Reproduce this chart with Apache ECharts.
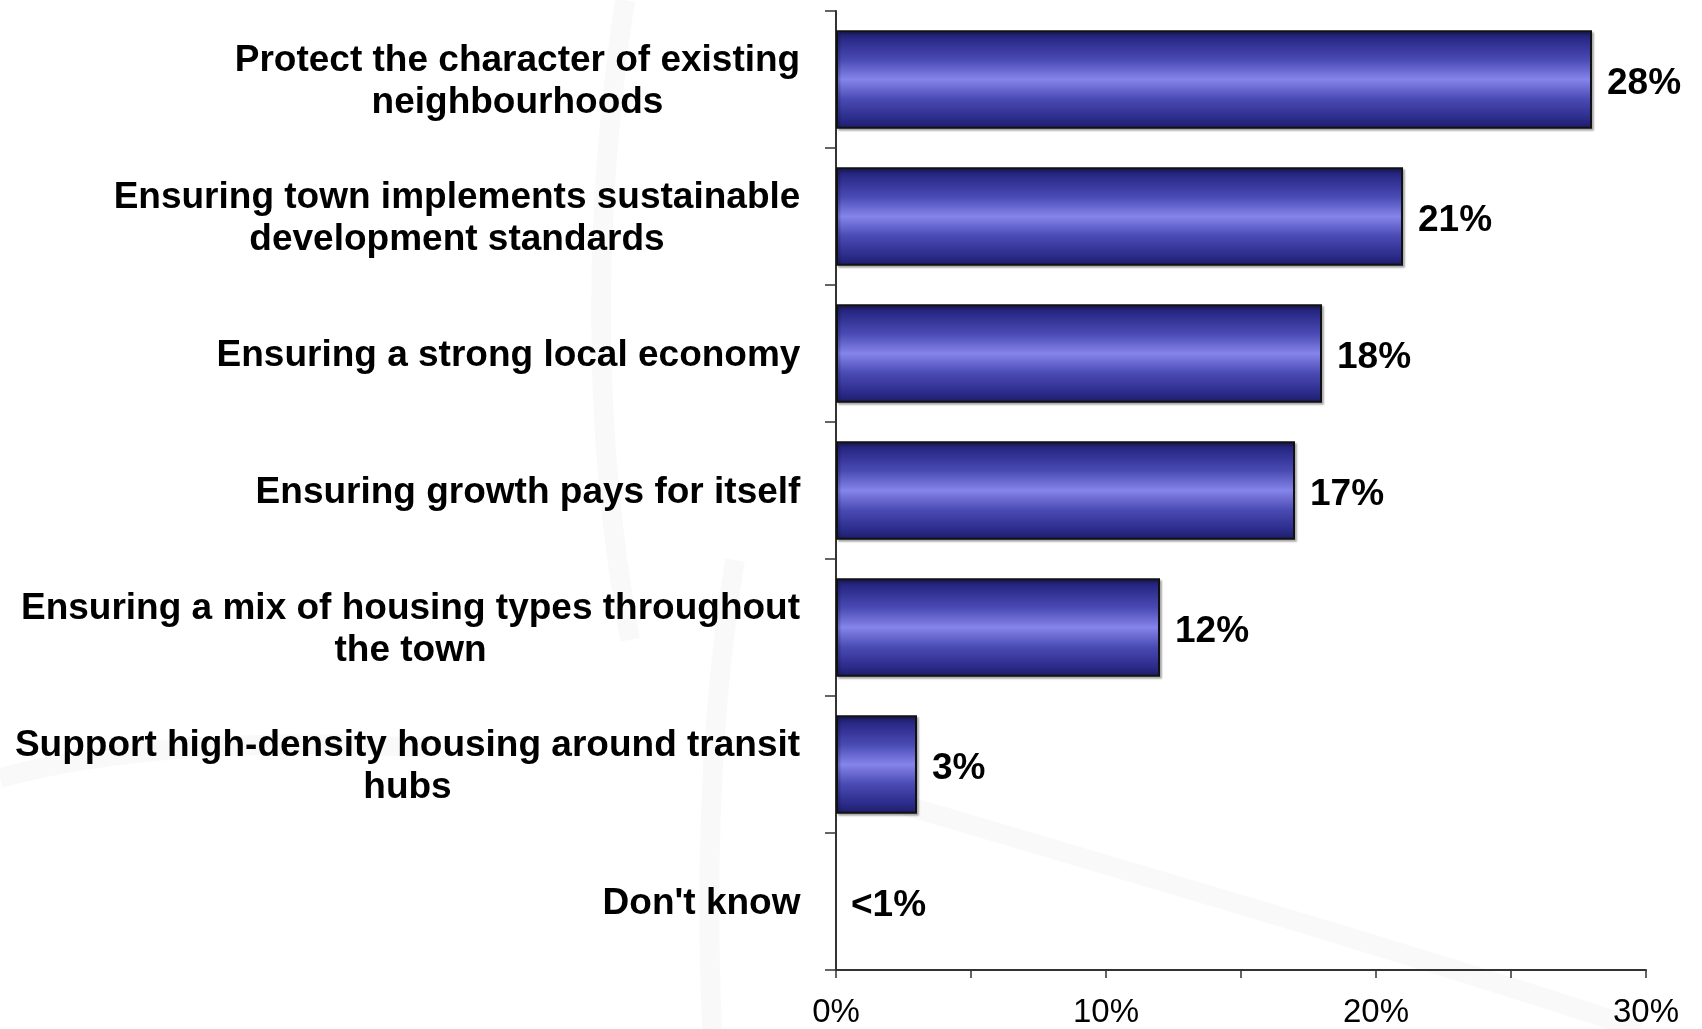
<!DOCTYPE html>
<html>
<head>
<meta charset="utf-8">
<script src="https://cdn.jsdelivr.net/npm/echarts@6/dist/echarts.min.js"></script>
<style>
  html, body { margin: 0; padding: 0; background: #ffffff; }
  #chart { width: 1702px; height: 1029px; }
</style>
</head>
<body>
<div id="chart"></div>
<script>
// Survey answers, top to bottom
const categories = [
  'Protect the character of existing\nneighbourhoods',
  'Ensuring town implements sustainable\ndevelopment standards',
  'Ensuring a strong local economy',
  'Ensuring growth pays for itself',
  'Ensuring a mix of housing types throughout\nthe town',
  'Support high-density housing around transit\nhubs',
  "Don't know"
];
// Share of respondents, percent
const values = [28, 21, 18, 17, 12, 3, 0];
// Text printed beside each bar
const valueLabels = ['28%', '21%', '18%', '17%', '12%', '3%', '<1%'];
// Labelled percentages along the bottom axis
const tickLabels = ['0%', '10%', '20%', '30%'];
const tickValues = [0, 10, 20, 30];

const FONT = '"Liberation Sans", Arial, Helvetica, sans-serif';
const CAT_SIZE = 37;

// Width of the widest line of each category label, so its lines can be centred
// within a block that is right-aligned against the axis.
const measureCtx = document.createElement('canvas').getContext('2d');
measureCtx.font = 'bold ' + CAT_SIZE + 'px ' + FONT;
const rich = {};
categories.forEach((c, i) => {
  const w = Math.max(...c.split('\n').map(l => measureCtx.measureText(l).width));
  rich['l' + i] = {
    width: Math.ceil(w) + 1,
    align: 'center',
    fontFamily: FONT,
    fontWeight: 'bold',
    fontSize: CAT_SIZE,
    lineHeight: 42,
    color: '#000'
  };
});

const barFill = new echarts.graphic.LinearGradient(0, 0, 0, 1, [
  { offset: 0.00, color: '#1c1c66' },
  { offset: 0.10, color: '#2b2b8a' },
  { offset: 0.30, color: '#4a4ab4' },
  { offset: 0.50, color: '#8484ea' },
  { offset: 0.70, color: '#4a4ab4' },
  { offset: 0.90, color: '#2b2b8a' },
  { offset: 1.00, color: '#1c1c66' }
]);

// A zero-length bar gets no outline or shadow
const barData = values.map(v => v > 0 ? v : {
  value: v,
  itemStyle: { borderWidth: 0, shadowColor: 'transparent' }
});

// Faint, soft swooshes of the slide background
const swoosh = (pts) => ({
  type: 'bezierCurve',
  z: -10,
  silent: true,
  shape: {
    x1: pts[0], y1: pts[1], cpx1: pts[2], cpy1: pts[3],
    cpx2: pts[4], cpy2: pts[5], x2: pts[6], y2: pts[7]
  },
  style: {
    stroke: 'rgba(0,0,0,0.022)',
    lineWidth: 20,
    fill: null,
    shadowBlur: 12,
    shadowColor: 'rgba(0,0,0,0.03)'
  }
});

const chart = echarts.init(document.getElementById('chart'), null, { renderer: 'canvas' });

chart.setOption({
  animation: false,
  backgroundColor: '#ffffff',
  graphic: [
    swoosh([625, 0, 595, 200, 590, 420, 630, 640]),
    swoosh([735, 560, 712, 700, 705, 860, 712, 1029]),
    swoosh([0, 778, 110, 748, 260, 738, 430, 748]),
    swoosh([870, 795, 1150, 878, 1400, 950, 1640, 1029])
  ],
  grid: { left: 836, right: 56, top: 11, bottom: 55, containLabel: false },
  xAxis: {
    type: 'value',
    min: 0,
    max: 30,
    interval: 5,
    axisLine: { show: true, lineStyle: { color: '#333', width: 2 } },
    axisTick: { show: true, length: 8, lineStyle: { color: '#333', width: 1.5 } },
    splitLine: { show: false },
    axisLabel: {
      margin: 26,
      fontFamily: FONT,
      fontSize: 33,
      color: '#000',
      formatter: v => {
        const k = tickValues.indexOf(v);
        return k >= 0 ? tickLabels[k] : '';
      }
    }
  },
  yAxis: {
    type: 'category',
    inverse: true,
    data: categories,
    axisLine: { show: true, lineStyle: { color: '#333', width: 2 } },
    axisTick: { show: true, length: 11, lineStyle: { color: '#333', width: 1.5 } },
    axisLabel: {
      margin: 35,
      align: 'right',
      padding: [5, 0, 0, 0],
      formatter: (v, i) => v.split('\n').map(l => '{l' + i + '|' + l + '}').join('\n'),
      rich: rich
    }
  },
  series: [{
    type: 'bar',
    data: barData,
    barCategoryGap: '28%',
    itemStyle: {
      color: barFill,
      borderColor: '#111',
      borderWidth: 2,
      shadowColor: 'rgba(0,0,0,0.25)',
      shadowBlur: 2,
      shadowOffsetX: 2,
      shadowOffsetY: 2
    },
    label: {
      show: true,
      position: 'right',
      distance: 15,
      offset: [0, 4],
      fontFamily: FONT,
      fontWeight: 'bold',
      fontSize: 37,
      color: '#000',
      formatter: p => valueLabels[p.dataIndex]
    }
  }]
});
</script>
</body>
</html>
